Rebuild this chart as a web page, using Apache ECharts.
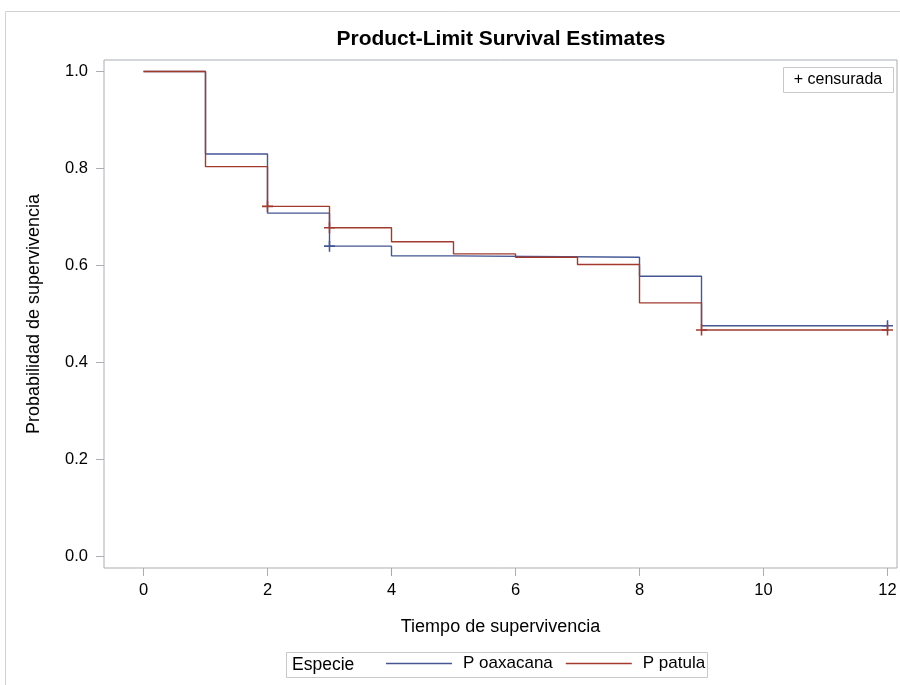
<!DOCTYPE html>
<html>
<head>
<meta charset="utf-8">
<script src="https://cdn.jsdelivr.net/npm/echarts@6/dist/echarts.min.js"></script>
<style>html,body{margin:0;padding:0;background:#fff}#c{width:900px;height:685px}</style>
</head>
<body>
<div id="c"></div>
<script>
// ---- data ----
const title = 'Product-Limit Survival Estimates';
const xLabel = 'Tiempo de supervivencia';
const yLabel = 'Probabilidad de supervivencia';
const seriesNames = ['P oaxacana', 'P patula'];
const xTicks = [0, 2, 4, 6, 8, 10, 12];
const yTicks = [0, 0.2, 0.4, 0.6, 0.8, 1.0];

const oaxTime = [0, 1, 2, 3, 4, 5, 8, 9, 12];
const oaxSurv = [1.0, 0.830, 0.708, 0.640, 0.620, 0.617, 0.578, 0.476, 0.476];
const oaxCensTime = [3, 12];
const oaxCensSurv = [0.640, 0.476];

const patTime = [0, 1, 2, 3, 4, 5, 6, 7, 8, 9, 12];
const patSurv = [1.0, 0.804, 0.722, 0.678, 0.649, 0.624, 0.617, 0.602, 0.523, 0.467, 0.467];
const patCensTime = [2, 3, 9, 12];
const patCensSurv = [0.722, 0.678, 0.467, 0.467];

const colors = ['#445694', '#A23A2E'];
const FONT = '"Liberation Sans", Arial, sans-serif';
const frameColor = '#a9aeb4';

const zip = (a, b) => a.map((v, i) => [v, b[i]]);
const plus = 'path://M0,4.3H10V5.7H0Z M4.3,0H5.7V10H4.3Z';

const chart = echarts.init(document.getElementById('c'), null, {renderer: 'canvas'});
chart.setOption({
  animation: false,
  backgroundColor: '#fff',
  title: {
    text: title, left: 501, top: 29, textAlign: 'center', padding: 0,
    textStyle: {fontFamily: FONT, fontSize: 21, fontWeight: 'bold', color: '#000'}
  },
  grid: {
    left: 104, top: 60, right: 3, bottom: 117,
    show: true, borderColor: frameColor, borderWidth: 1, backgroundColor: 'transparent'
  },
  xAxis: {
    type: 'value', min: -0.637, max: 12.153,
    name: xLabel, nameLocation: 'middle', nameGap: 50,
    nameTextStyle: {fontFamily: FONT, fontSize: 18, color: '#000'},
    axisLine: {show: false, onZero: false},
    splitLine: {show: false},
    axisTick: {show: true, length: 8, customValues: xTicks, lineStyle: {color: frameColor}},
    axisLabel: {customValues: xTicks, margin: 14, fontFamily: FONT, fontSize: 16.5, color: '#000'}
  },
  yAxis: {
    type: 'value', min: -0.0235, max: 1.0237,
    name: yLabel, nameLocation: 'middle', nameGap: 61,
    nameTextStyle: {fontFamily: FONT, fontSize: 18, color: '#000'},
    axisLine: {show: false, onZero: false},
    splitLine: {show: false},
    axisTick: {show: true, length: 8, customValues: yTicks, lineStyle: {color: frameColor}},
    axisLabel: {customValues: yTicks, margin: 16, fontFamily: FONT, fontSize: 16.5, color: '#000',
      formatter: v => v.toFixed(1)}
  },
  legend: {
    data: seriesNames, left: 386, top: 655, itemWidth: 66, itemHeight: 1.4, itemGap: 13,
    icon: 'rect', padding: 0,
    textStyle: {fontFamily: FONT, fontSize: 17, color: '#000', padding: [0, 0, 0, 6]}
  },
  series: [
    {name: seriesNames[0], type: 'line', step: 'end', data: zip(oaxTime, oaxSurv),
      showSymbol: false, lineStyle: {color: colors[0], width: 1.4}, itemStyle: {color: colors[0]}, z: 3},
    {name: seriesNames[1], type: 'line', step: 'end', data: zip(patTime, patSurv),
      showSymbol: false, lineStyle: {color: colors[1], width: 1.4}, itemStyle: {color: colors[1]}, z: 3},
    {name: seriesNames[0] + ' censored', type: 'scatter', data: zip(oaxCensTime, oaxCensSurv),
      symbol: plus, symbolSize: 11, itemStyle: {color: colors[0], opacity: 1}, z: 4},
    {name: seriesNames[1] + ' censored', type: 'scatter', data: zip(patCensTime, patCensSurv),
      symbol: plus, symbolSize: 11, itemStyle: {color: colors[1], opacity: 1}, z: 4}
  ],
  graphic: [
    {type: 'rect', shape: {x: 5.5, y: 11.5, width: 1000, height: 1000}, silent: true,
      style: {fill: 'none', stroke: '#d2d2d2', lineWidth: 1}, z: -10},
    {type: 'rect', shape: {x: 783.5, y: 67.5, width: 110, height: 25},
      style: {fill: '#fff', stroke: '#c8c8c8', lineWidth: 1}, z: 10},
    {type: 'text', x: 838, y: 80, z: 11,
      style: {text: '+ censurada', font: '16px ' + FONT, fill: '#000', align: 'center', verticalAlign: 'middle'}},
    {type: 'rect', shape: {x: 286.5, y: 652.5, width: 421, height: 25},
      style: {fill: 'none', stroke: '#c8c8c8', lineWidth: 1}, z: 10},
    {type: 'text', x: 292, y: 665, z: 11,
      style: {text: 'Especie', font: '17.5px ' + FONT, fill: '#000', align: 'left', verticalAlign: 'middle'}}
  ]
});
</script>
</body>
</html>
